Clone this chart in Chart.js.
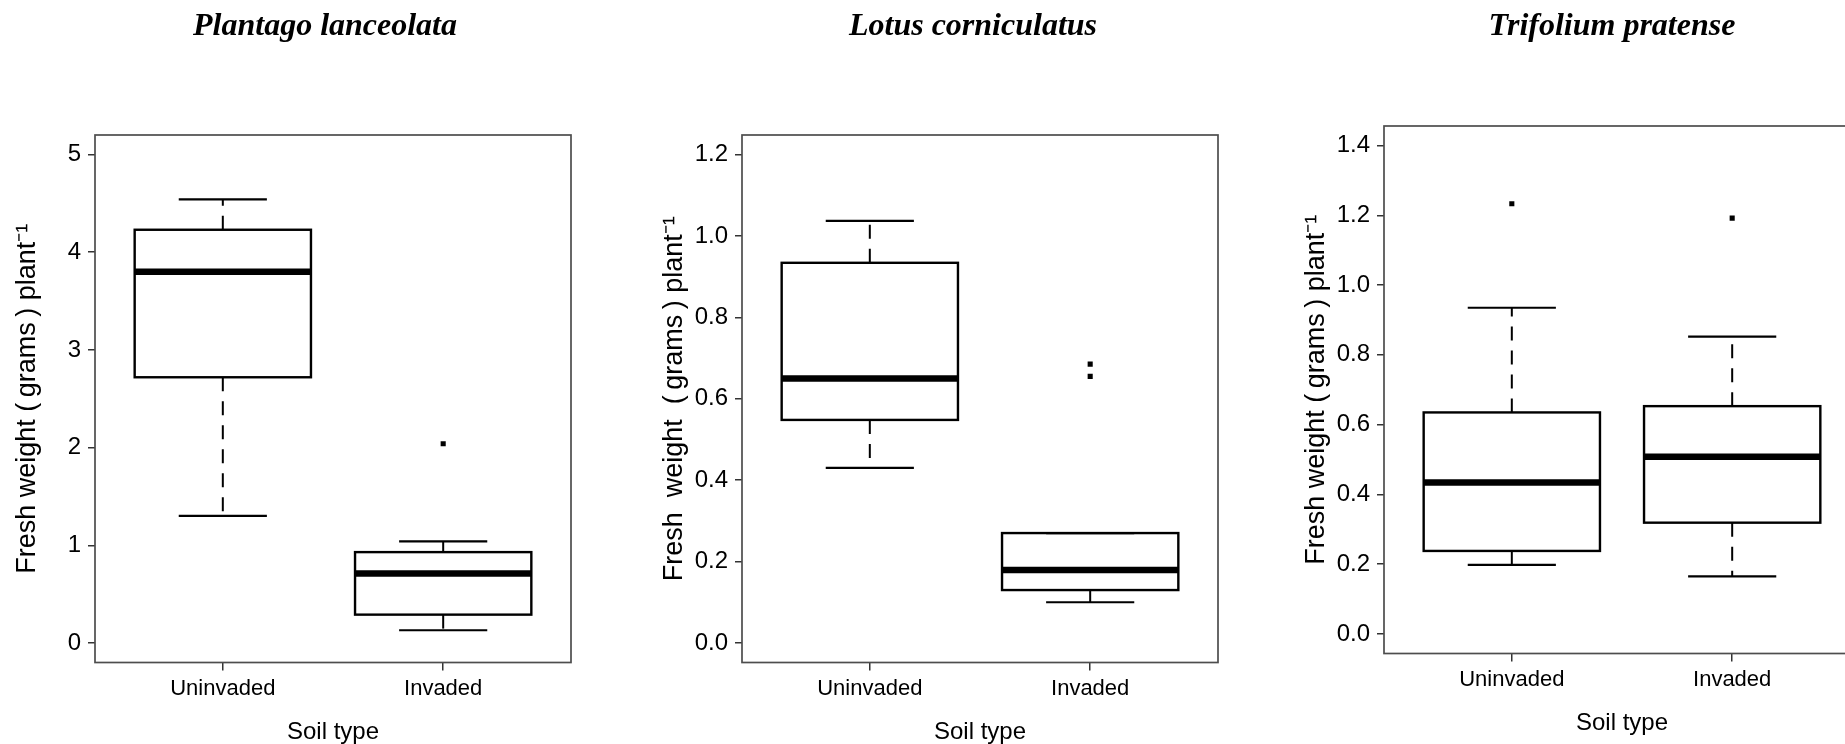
<!DOCTYPE html>
<html>
<head>
<meta charset="utf-8">
<script src="https://cdn.jsdelivr.net/npm/chart.js@4.4.1/dist/chart.umd.min.js"></script>
<style>
  html, body { margin: 0; padding: 0; background: #fff; }
  body { width: 1845px; height: 744px; position: relative; overflow: hidden; }
  canvas { position: absolute; }
  .species {
    position: absolute; top: 8px; width: 400px; text-align: center;
    font: italic bold 32px 'Liberation Serif', 'Times New Roman', serif;
    line-height: 32px; color: #000; white-space: nowrap;
  }
</style>
</head>
<body>
<canvas id="plantago" width="600" height="744" style="left:0px;top:0px"></canvas>
<canvas id="lotus" width="600" height="744" style="left:647px;top:0px"></canvas>
<canvas id="trifolium" width="600" height="744" style="left:1289px;top:-9px"></canvas>
<script>
const soilTypes = ['Uninvaded', 'Invaded'];
const species = ['Plantago lanceolata', 'Lotus corniculatus', 'Trifolium pratense'];
const speciesCentres = [325, 973, 1612];

// Plantago lanceolata, values per soil type [Uninvaded, Invaded]
const plantagoLow = [1.30, 0.13];
const plantagoQ1 = [2.72, 0.29];
const plantagoMedian = [3.80, 0.71];
const plantagoQ3 = [4.23, 0.93];
const plantagoHigh = [4.54, 1.04];
const plantagoOutliers = [[], [2.04]];
const plantagoTicks = [0, 1, 2, 3, 4, 5];
const plantagoTickLabels = ['0', '1', '2', '3', '4', '5'];

// Lotus corniculatus
const lotusLow = [0.43, 0.10];
const lotusQ1 = [0.548, 0.13];
const lotusMedian = [0.65, 0.179];
const lotusQ3 = [0.934, 0.27];
const lotusHigh = [1.037, 0.27];
const lotusOutliers = [[], [0.655, 0.685]];
const lotusTicks = [0, 0.2, 0.4, 0.6, 0.8, 1.0, 1.2];
const lotusTickLabels = ['0.0', '0.2', '0.4', '0.6', '0.8', '1.0', '1.2'];

// Trifolium pratense
const trifoliumLow = [0.198, 0.165];
const trifoliumQ1 = [0.238, 0.319];
const trifoliumMedian = [0.434, 0.508];
const trifoliumQ3 = [0.635, 0.653];
const trifoliumHigh = [0.935, 0.852];
const trifoliumOutliers = [[1.233], [1.192]];
const trifoliumTicks = [0, 0.2, 0.4, 0.6, 0.8, 1.0, 1.2, 1.4];
const trifoliumTickLabels = ['0.0', '0.2', '0.4', '0.6', '0.8', '1.0', '1.2', '1.4'];

const panels = [
  { id: 'plantago', low: plantagoLow, q1: plantagoQ1, median: plantagoMedian, q3: plantagoQ3,
    high: plantagoHigh, outliers: plantagoOutliers, ticks: plantagoTicks, tickLabels: plantagoTickLabels,
    yTitle: 'Fresh weight (\u2009grams\u2009) plant\u207B\u00B9' },
  { id: 'lotus', low: lotusLow, q1: lotusQ1, median: lotusMedian, q3: lotusQ3,
    high: lotusHigh, outliers: lotusOutliers, ticks: lotusTicks, tickLabels: lotusTickLabels,
    yTitle: 'Fresh  weight  (\u2009grams\u2009) plant\u207B\u00B9' },
  { id: 'trifolium', low: trifoliumLow, q1: trifoliumQ1, median: trifoliumMedian, q3: trifoliumQ3,
    high: trifoliumHigh, outliers: trifoliumOutliers, ticks: trifoliumTicks, tickLabels: trifoliumTickLabels,
    yTitle: 'Fresh weight (\u2009grams\u2009) plant\u207B\u00B9' }
];

species.forEach((name, i) => {
  const div = document.createElement('div');
  div.className = 'species';
  div.textContent = name;
  div.style.left = (speciesCentres[i] - 200) + 'px';
  document.body.appendChild(div);
});

const sans = "'Liberation Sans', Arial, sans-serif";

// boxes, whiskers, medians and the frame around the plot region
function boxPlugin(p) {
  return {
    id: 'boxes',
    afterDatasetsDraw(chart) {
      const { ctx, chartArea: a, scales: { x, y } } = chart;
      const half = (x.getPixelForValue(1.4) - x.getPixelForValue(0.6)) / 2;
      ctx.save();
      ctx.strokeStyle = '#000';
      ctx.lineCap = 'butt';
      p.median.forEach((m, i) => {
        const cx = x.getPixelForValue(i + 1);
        const yLo = y.getPixelForValue(p.low[i]);
        const yQ1 = y.getPixelForValue(p.q1[i]);
        const yMed = y.getPixelForValue(m);
        const yQ3 = y.getPixelForValue(p.q3[i]);
        const yHi = y.getPixelForValue(p.high[i]);

        ctx.lineWidth = 2;
        ctx.setLineDash([14, 10]);
        ctx.beginPath(); ctx.moveTo(cx, yQ3); ctx.lineTo(cx, yHi); ctx.stroke();
        ctx.beginPath(); ctx.moveTo(cx, yQ1); ctx.lineTo(cx, yLo); ctx.stroke();
        ctx.setLineDash([]);

        ctx.lineWidth = 2.2;
        ctx.beginPath();
        ctx.moveTo(cx - half / 2, yHi); ctx.lineTo(cx + half / 2, yHi);
        ctx.moveTo(cx - half / 2, yLo); ctx.lineTo(cx + half / 2, yLo);
        ctx.stroke();

        ctx.lineWidth = 2.4;
        ctx.strokeRect(cx - half, yQ3, 2 * half, yQ1 - yQ3);

        ctx.lineWidth = 6.5;
        ctx.beginPath(); ctx.moveTo(cx - half, yMed); ctx.lineTo(cx + half, yMed); ctx.stroke();
      });
      ctx.strokeStyle = '#4d4d4d';
      ctx.lineWidth = 1.7;
      ctx.strokeRect(a.left, a.top, a.width, a.height);
      ctx.restore();
    }
  };
}

panels.forEach(p => {
  const span = p.ticks[p.ticks.length - 1] - p.ticks[0];
  const n = soilTypes.length;
  new Chart(document.getElementById(p.id), {
    type: 'scatter',
    data: {
      datasets: [{
        data: p.outliers.flatMap((vals, i) => vals.map(v => ({ x: i + 1, y: v }))),
        pointStyle: 'rect',
        radius: 3.6,
        backgroundColor: '#000',
        borderWidth: 0
      }]
    },
    options: {
      responsive: false,
      animation: false,
      layout: { padding: { top: 135, right: 29, left: 0, bottom: 0 } },
      plugins: { legend: { display: false }, tooltip: { enabled: false } },
      scales: {
        x: {
          type: 'linear',
          min: 0.5 - 0.04 * n,
          max: n + 0.5 + 0.04 * n,
          afterBuildTicks: s => { s.ticks = soilTypes.map((_, i) => ({ value: i + 1 })); },
          afterFit: s => { s.height = 81.5; },
          ticks: {
            callback: v => soilTypes[v - 1],
            autoSkip: false, maxRotation: 0,
            color: '#000', padding: 5,
            font: { family: sans, size: 22 }
          },
          grid: { drawOnChartArea: false, tickLength: 8, color: '#333', lineWidth: 1.5 },
          border: { display: false },
          title: {
            display: true, text: 'Soil type', color: '#000',
            font: { family: sans, size: 24, lineHeight: 1 },
            padding: { top: 0, bottom: 0 }
          }
        },
        y: {
          min: p.ticks[0] - 0.04 * span,
          max: p.ticks[p.ticks.length - 1] + 0.04 * span,
          afterBuildTicks: s => { s.ticks = p.ticks.map(v => ({ value: v })); },
          afterFit: s => { s.width = 95; },
          ticks: {
            callback: (v, i) => p.tickLabels[i],
            color: '#000', padding: 7,
            font: { family: sans, size: 24 }
          },
          grid: { drawOnChartArea: false, tickLength: 7, color: '#333', lineWidth: 1.5 },
          border: { display: false },
          title: {
            display: true, text: p.yTitle, color: '#000',
            font: { family: sans, size: 27 },
            padding: { top: 11.8, bottom: 0 }
          }
        }
      }
    },
    plugins: [boxPlugin(p)]
  });
});
</script>
</body>
</html>
